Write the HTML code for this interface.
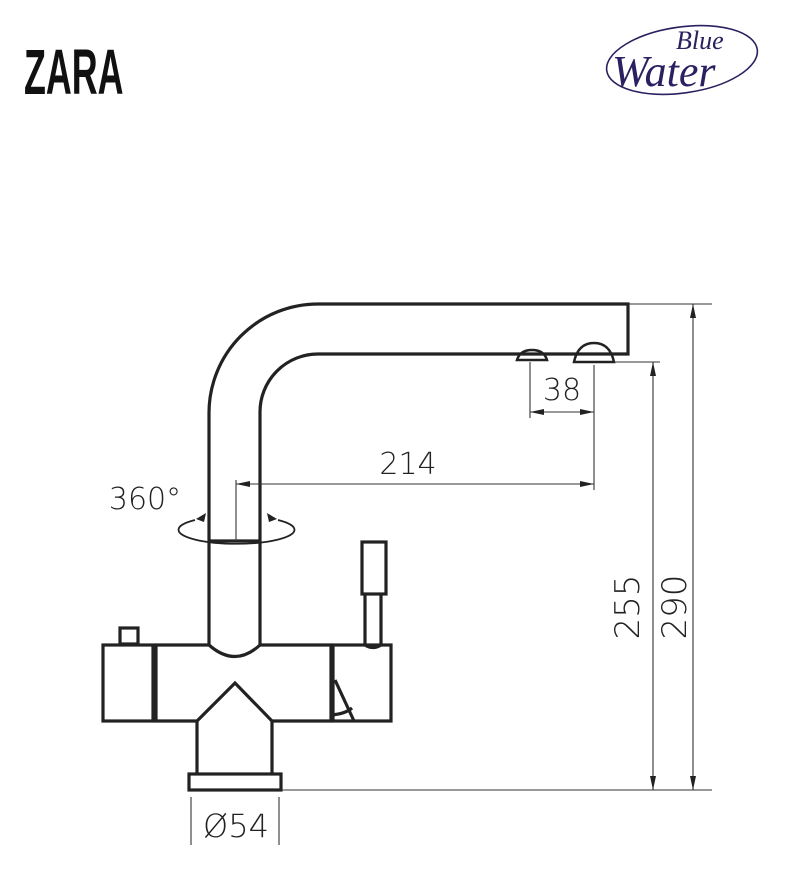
<!DOCTYPE html>
<html><head><meta charset="utf-8"><style>
html,body{margin:0;padding:0;background:#fff;}
svg{display:block}
</style></head><body>
<svg width="802" height="886" viewBox="0 0 802 886" xmlns="http://www.w3.org/2000/svg">
<rect width="802" height="886" fill="#fff"/>
<text x="0" y="0" font-family="Liberation Sans, sans-serif" font-weight="bold" font-size="64" transform="translate(24 94) scale(0.56 1)" fill="#111">ZARA</text>
<!-- logo -->
<ellipse cx="682" cy="60" rx="76" ry="33" fill="none" stroke="#2a2160" stroke-width="1.6" transform="rotate(-8 682 60)"/>
<text x="676" y="49" font-family="Liberation Serif, serif" font-style="italic" font-size="26" fill="#2a2160">Blue</text>
<text x="612" y="86" font-family="Liberation Serif, serif" font-style="italic" font-size="44" fill="#2a2160">Water</text>

<g fill="none" stroke="#222" stroke-width="3.2" stroke-linejoin="miter">
<path d="M209 645 V413 A109 109 0 0 1 318 304 H628 V354 H318 A58 58 0 0 0 260 412 V645"/>
<line x1="209" y1="541" x2="260" y2="541"/>
<path d="M517 360 Q520 350 532 350 Q544 350 547 360 Z" stroke-width="2.5"/>
<path d="M574 362 Q578 343 594 343 Q610 343 614 362 Z" stroke-width="2.5"/>
<rect x="103" y="645" width="50" height="76"/>
<rect x="120" y="628" width="18" height="16"/>
<path d="M156 645 V721 H197 L235 683 L272 721 H331 V645 H260 Q235 668 209 645 Z"/>
<rect x="333" y="645" width="58" height="76"/>
<path d="M335 680 L354 721 M331 715 Q345 714 352 708"/>
<rect x="362" y="542" width="24" height="52"/>
<path d="M365 594 V645 Q373 650 381 645 V594"/>
<path d="M197 721 V774 M272 721 V774"/>
<rect x="189" y="774" width="92" height="16"/>
</g>
<g fill="none" stroke="#333" stroke-width="1.1">
<line x1="236" y1="480" x2="236" y2="541"/>
<line x1="236" y1="484" x2="594" y2="484"/>
<line x1="594" y1="365" x2="594" y2="490"/>
<line x1="530" y1="362" x2="530" y2="418"/>
<line x1="530" y1="412" x2="594" y2="412"/>
<line x1="628" y1="304" x2="712" y2="304"/>
<line x1="614" y1="362" x2="660" y2="362"/>
<line x1="281" y1="790" x2="712" y2="790"/>
<line x1="693" y1="304" x2="693" y2="790"/>
<line x1="653" y1="362" x2="653" y2="790"/>
<line x1="191" y1="797" x2="191" y2="845"/>
<line x1="279" y1="797" x2="279" y2="845"/>
<path d="M195 520 A58 14 0 1 0 278 520" stroke="#222" stroke-width="1.8"/>
</g>
<g fill="#222">
<path d="M236 484 l14 -3 v6 z"/><path d="M594 484 l-14 -3 v6 z"/>
<path d="M530 412 l14 -3 v6 z"/><path d="M594 412 l-14 -3 v6 z"/>
<path d="M693 304 l-3 14 h6 z"/><path d="M693 790 l-3 -14 h6 z"/>
<path d="M653 362 l-3 14 h6 z"/><path d="M653 790 l-3 -14 h6 z"/>
<path d="M196 519 l10 -6 l-2 9 z"/><path d="M277 519 l-10 -6 l2 9 z"/>
</g>
<g font-family="DejaVu Sans, sans-serif" font-weight="200" fill="#222" text-anchor="middle">
<text x="562" y="400" font-size="30">38</text>
<text x="408" y="474" font-size="30">214</text>
<text x="145" y="509" font-size="30">360°</text>
<text x="236" y="837" font-size="32">Ø54</text>
<text transform="translate(639 607) rotate(-90)" font-size="34">255</text>
<text transform="translate(686 607) rotate(-90)" font-size="34">290</text>
</g>
</svg>
</body></html>
